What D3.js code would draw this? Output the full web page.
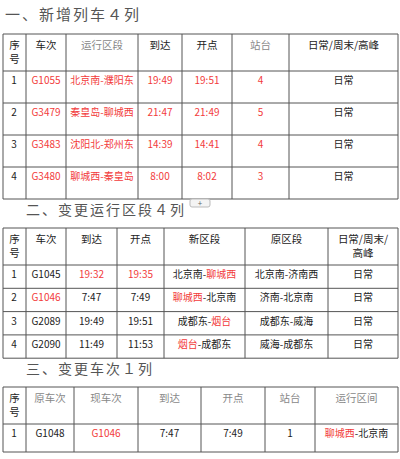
<!DOCTYPE html>
<html><head><meta charset="utf-8">
<script src="https://cdn.jsdelivr.net/npm/d3@7"></script>
<style>body{margin:0;background:#fff}text{font-family:"Noto Sans CJK SC",sans-serif}</style>
</head><body><svg id="c" width="400" height="459"></svg>
<script>
// "^" prefix marks red text inside a cell, "~" grey, "|" line break, "+" splits parts
var titles = ["一、新增列车４列", "二、变更运行区段４列", "三、变更车次１列"]

var head1 = ["序|号", "车次", "~运行区段", "到达", "开点", "~站台", "日常/周末/高峰"]
var rows1 = [
  ["1", "^G1055", "^北京南-濮阳东", "^19:49", "^19:51", "^4", "日常"],
  ["2", "^G3479", "^秦皇岛-聊城西", "^21:47", "^21:49", "^5", "日常"],
  ["3", "^G3483", "^沈阳北-郑州东", "^14:39", "^14:41", "^4", "日常"],
  ["4", "^G3480", "^聊城西-秦皇岛", "^8:00", "^8:02", "^3", "日常"]
]
var head2 = ["序|号", "车次", "到达", "开点", "新区段", "原区段", "日常/周末/|高峰"]
var rows2 = [
  ["1", "G1045", "^19:32", "^19:35", "北京南-+^聊城西", "北京南-济南西", "日常"],
  ["2", "^G1046", "7:47", "7:49", "^聊城西+-北京南", "济南-北京南", "日常"],
  ["3", "G2089", "19:49", "19:51", "成都东-+^烟台", "成都东-威海", "日常"],
  ["4", "G2090", "11:49", "11:53", "^烟台+-成都东", "威海-成都东", "日常"]
]
var head3 = ["序|号", "~原车次", "~现车次", "~到达", "~开点", "~站台", "~运行区间"]
var rows3 = [
  ["1", "G1048", "^G1046", "7:47", "7:49", "1", "^聊城西+-北京南"]
]

var tables = [
  {title: titles[0], tx: 5, ty: 20, top: 34, cols: [3, 26, 66, 138, 182, 232, 289, 398], hh: 37, rh: 32, head: head1, rows: rows1, tsize: 15},
  {title: titles[1], tx: 26, ty: 215, top: 228, cols: [3, 26, 66, 117, 164, 245, 328, 398], hh: 37, rh: 23.3, head: head2, rows: rows2, tsize: 14},
  {title: titles[2], tx: 26, ty: 374, top: 387, cols: [3, 26, 74, 138, 201, 265, 315, 398], hh: 37, rh: 28, head: head3, rows: rows3, tsize: 14}
]

var svg = d3.select("#c")
var red = "#f23b3b"

function drawCell(g, s, x, y, size) {
  var parts = s.split("+")
  var t = g.append("text").attr("x", x).attr("y", y).attr("text-anchor", "middle")
    .attr("font-size", size)
  parts.forEach(p => {
    var c = "#222"
    if (p[0] == "^") { c = red; p = p.slice(1) }
    if (p[0] == "~") { c = "#888"; p = p.slice(1) }
    t.append("tspan").attr("fill", c).text(p)
  })
}

tables.forEach(tb => {
  var g = svg.append("g")
  g.append("text").attr("x", tb.tx).attr("y", tb.ty).attr("font-size", tb.tsize)
    .attr("fill", "#555").attr("letter-spacing", 2).text(tb.title)
  var y = d3.scaleLinear().domain([0, 1]).range([tb.top + tb.hh, tb.top + tb.hh + tb.rh])
  var bottom = y(tb.rows.length)
  g.selectAll(".v").data(tb.cols).enter().append("line")
    .attr("x1", d => d).attr("x2", d => d).attr("y1", tb.top).attr("y2", bottom)
    .attr("stroke", "#555").attr("stroke-width", 1)
  var hs = [tb.top].concat(d3.range(tb.rows.length + 1).map(i => y(i)))
  g.selectAll(".h").data(hs).enter().append("line")
    .attr("x1", tb.cols[0]).attr("x2", tb.cols[tb.cols.length - 1]).attr("y1", d => d).attr("y2", d => d)
    .attr("stroke", "#555").attr("stroke-width", 1)
  tb.head.forEach((h, i) => {
    var cx = (tb.cols[i] + tb.cols[i + 1]) / 2
    var lines = h.split("|")
    var gray = h[0] == "~"
    lines.forEach((l, k) => {
      drawCell(g, (gray && k > 0 ? "~" : "") + l, cx, tb.top + 15 + k * 14, 10.5)
    })
  })
  tb.rows.forEach((r, ri) => {
    r.forEach((s, i) => {
      var cx = (tb.cols[i] + tb.cols[i + 1]) / 2
      if (i == 0) cx = tb.cols[0] + 11
      drawCell(g, s, cx, y(ri) + 13, 10)
    })
  })
})

svg.append("rect").attr("x", 190).attr("y", 199).attr("width", 20).attr("height", 8).attr("rx", 2)
  .attr("fill", "#f4f4f4").attr("stroke", "#bbb")
svg.append("text").attr("x", 200).attr("y", 206).attr("text-anchor", "middle").attr("font-size", 8).attr("fill", "#666").text("+")
</script></body></html>
